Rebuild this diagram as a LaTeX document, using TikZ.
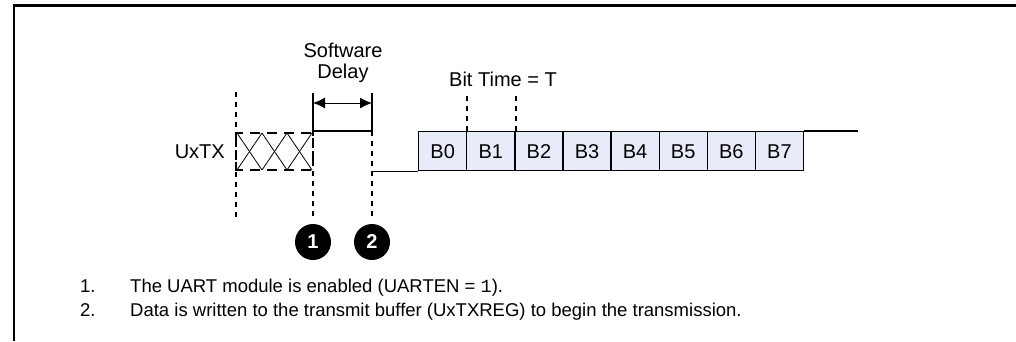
\documentclass[tikz,border=0pt]{standalone}
\usepackage{fontspec}
\setmainfont{Liberation Sans}
\setmonofont{Liberation Mono}
\usetikzlibrary{arrows.meta,positioning}
\definecolor{bitfill}{RGB}{232,236,248}
\tikzset{
    sig/.style={line width=1.3pt},
    guide/.style={line width=2pt,dash pattern=on 5pt off 5pt},
    bitbox/.style={draw,line width=1.3pt,fill=bitfill,minimum width=48.1pt,minimum height=39pt,inner sep=0pt,text height=14pt,text depth=0pt},
    marker/.style={circle,fill=black,minimum size=36pt,inner sep=0pt,text=white,font=\bfseries\fontsize{20}{22}\selectfont},
    every node/.style={font=\fontsize{20}{21}\selectfont}
}
\newcommand{\setup}{
    \coordinate (x0) at (236,131);
    \coordinate (e1) at (313,131);
    \coordinate (e2) at (372,131);
    \coordinate (tx) at (858,131);
}

\begin{document}
\begin{tikzpicture}[x=1pt,y=-1pt]
    \useasboundingbox (0,0) rectangle (1016,341);
    \setup;

    \draw[line width=2.2pt] (14,341) -- (14,5.5) -- (1016,5.5); % frame

    % bit cells
    \foreach \i in {0,...,7}
        \node[bitbox,anchor=north west] (b\i) at ({418+48.1*\i},131) {B\i};

    % undefined state
    \draw[line width=1.5pt,dash pattern=on 10pt off 7pt] (236,133) rectangle (313,170);
    \foreach \k in {0,1,2} {
        \draw[line width=0.8pt] ({237+25*\k},133) -- ({262+25*\k},170);
        \draw[line width=0.8pt] ({237+25*\k},170) -- ({262+25*\k},133);
    }

    \draw[sig] (e1) -- (e2);
    \draw[sig] (e2 |- b0.south) -- (b0.south west);
    \draw[sig] (b7.north east) -- (tx);

    \node[anchor=east,inner sep=0pt] (uxtx) at (225,152) {UxTX};

    \node[marker] (m1) at (313,242) {1};
    \node[marker] (m2) at (372,242) {2};

    \draw[guide] (236,92) -- (236,217);
    \draw[sig] (e1) -- ++(0,-38);
    \draw[sig] (e2) -- ++(0,-38);
    \draw[guide] (e1) -- ([yshift=6pt]m1.north);
    \draw[guide] (e2) -- ([yshift=6pt]m2.north);

    \draw[{Latex[length=12pt,width=11pt]}-{Latex[length=12pt,width=11pt]},line width=1pt] (313,103) -- (372,103);
    \node[align=center] (swd) at (343,63) {Software\\Delay};

    \node (bt) at (503,79) {Bit Time = T};
    \draw[guide] (b0.north east) -- ++(0,-39);
    \draw[guide] (b1.north east) -- ++(0,-39);

    % notes
    \begin{scope}[every node/.style={anchor=base west,inner sep=0pt,font=\fontsize{18.5}{20}\selectfont}]
        \node (n1) at (80,292) {1.};
        \node (t1) at (130,292) {The UART module is enabled (UARTEN = \texttt{1}).};
        \node (n2) at (80,316) {2.};
        \node (t2) at (130,316) {Data is written to the transmit buffer (UxTXREG) to begin the transmission.};
    \end{scope}
\end{tikzpicture}
\end{document}
